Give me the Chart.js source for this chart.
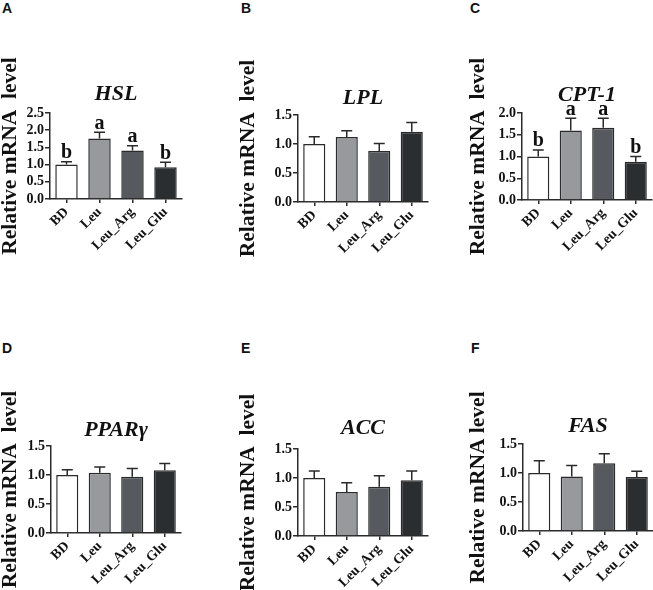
<!DOCTYPE html>
<html>
<head>
<meta charset="utf-8">
<script src="https://cdn.jsdelivr.net/npm/chart.js@4.4.1/dist/chart.umd.min.js"></script>
<style>
  html, body { margin: 0; padding: 0; background: #fff; }
  body { width: 653px; height: 590px; position: relative; overflow: hidden; }
  .panel { position: absolute; }
  .tag { position: absolute; font: bold 14px "Liberation Sans", Arial, sans-serif; color: #111; }
</style>
</head>
<body>
<div class="tag" style="left:2px;top:0px">A</div>
<div class="tag" style="left:241px;top:0px">B</div>
<div class="tag" style="left:470px;top:0px">C</div>
<div class="tag" style="left:2px;top:340px">D</div>
<div class="tag" style="left:241px;top:340px">E</div>
<div class="tag" style="left:471px;top:340px">F</div>

<canvas id="cA" class="panel" width="220" height="290" style="left:-5px;top:0px"></canvas>
<canvas id="cB" class="panel" width="220" height="290" style="left:215px;top:0px"></canvas>
<canvas id="cC" class="panel" width="220" height="290" style="left:433px;top:0px"></canvas>
<canvas id="cD" class="panel" width="220" height="295" style="left:-5px;top:295px"></canvas>
<canvas id="cE" class="panel" width="220" height="295" style="left:215px;top:295px"></canvas>
<canvas id="cF" class="panel" width="220" height="295" style="left:433px;top:295px"></canvas>

<script>
const groups = ['BD', 'Leu', 'Leu_Arg', 'Leu_Glu'];
const barColors = ['#ffffff', '#97999d', '#56595d', '#2b2e31'];

const hslMean = [1.0, 1.76, 1.41, 0.92];
const hslErr = [0.08, 0.18, 0.14, 0.15];
const hslSig = ['b', 'a', 'a', 'b'];
const hslTicks = [0, 0.5, 1.0, 1.5, 2.0, 2.5];

const lplMean = [1.0, 1.12, 0.88, 1.21];
const lplErr = [0.125, 0.11, 0.13, 0.16];
const lplTicks = [0, 0.5, 1.0, 1.5];

const cptMean = [1.0, 1.6, 1.66, 0.88];
const cptErr = [0.15, 0.28, 0.22, 0.12];
const cptSig = ['b', 'a', 'a', 'b'];
const cptTicks = [0, 0.5, 1.0, 1.5, 2.0];

const pparMean = [1.0, 1.04, 0.97, 1.08];
const pparErr = [0.09, 0.10, 0.14, 0.12];
const pparTicks = [0, 0.5, 1.0, 1.5];

const accMean = [1.0, 0.76, 0.85, 0.96];
const accErr = [0.12, 0.16, 0.19, 0.16];
const accTicks = [0, 0.5, 1.0, 1.5];

const fasMean = [1.0, 0.94, 1.17, 0.93];
const fasErr = [0.21, 0.19, 0.16, 0.10];
const fasTicks = [0, 0.5, 1.0, 1.5];

const serif = '"Liberation Serif", "Times New Roman", serif';
const ink = '#111';
const axisInk = '#2a2a2a';

// error bars + significance letters on top of each bar
const errorBars = {
  id: 'errorBars',
  afterDatasetsDraw(chart) {
    const ds = chart.data.datasets[0];
    const meta = chart.getDatasetMeta(0);
    const y = chart.scales.y;
    const ctx = chart.ctx;
    ctx.save();
    ctx.strokeStyle = axisInk;
    ctx.lineWidth = 1.5;
    meta.data.forEach((bar, i) => {
      const top = y.getPixelForValue(ds.data[i] + ds.err[i]);
      ctx.beginPath();
      ctx.moveTo(bar.x, bar.y);
      ctx.lineTo(bar.x, top);
      ctx.moveTo(bar.x - 5.5, top);
      ctx.lineTo(bar.x + 5.5, top);
      ctx.stroke();
      if (ds.sig) {
        ctx.fillStyle = ink;
        ctx.font = 'bold 20px ' + serif;
        ctx.textAlign = 'center';
        ctx.textBaseline = 'alphabetic';
        ctx.fillText(ds.sig[i], bar.x, top - 3.5);
      }
    });
    ctx.restore();
  }
};

function makePanel(id, gene, mean, err, sig, ticks, yLabel, geo) {
  const canvas = document.getElementById(id);
  const W = canvas.width, H = canvas.height;
  const lh = 22 * 1.2;
  return new Chart(canvas, {
    type: 'bar',
    data: {
      labels: groups,
      datasets: [{
        data: mean,
        err: err,
        sig: sig,
        backgroundColor: barColors,
        borderColor: axisInk,
        borderWidth: 1.5,
        barPercentage: 0.68,
        categoryPercentage: 1.0
      }]
    },
    options: {
      responsive: false,
      animation: false,
      layout: {
        padding: { left: 0, right: W - geo.right, top: geo.titleY - lh / 2, bottom: 0 }
      },
      plugins: {
        legend: { display: false },
        tooltip: { enabled: false },
        title: {
          display: true,
          text: gene,
          fullSize: false,
          color: ink,
          font: { family: serif, size: 22, weight: 'bold', style: 'italic' },
          padding: { top: 0, bottom: geo.top - geo.titleY - lh / 2 }
        }
      },
      scales: {
        x: {
          border: { color: axisInk, width: 1.5 },
          grid: { display: true, drawOnChartArea: false, offset: false, color: axisInk, lineWidth: 1.5, tickLength: 4 },
          ticks: {
            color: ink, font: { family: serif, size: 14, weight: 'bold' },
            minRotation: 45, maxRotation: 45, autoSkip: false, padding: 1
          },
          afterFit: s => { s.height = H - geo.bottom; }
        },
        y: {
          min: 0,
          max: ticks[ticks.length - 1],
          border: { color: axisInk, width: 1.5 },
          grid: { display: true, drawOnChartArea: false, color: axisInk, lineWidth: 1.5, tickLength: 5 },
          afterBuildTicks: s => { s.ticks = ticks.map(v => ({ value: v })); },
          ticks: {
            color: ink, font: { family: serif, size: 14, weight: 'bold' }, padding: 1,
            autoSkip: false,
            callback: v => Number(v).toFixed(1)
          },
          title: {
            display: true,
            text: yLabel,
            color: ink,
            font: { family: serif, size: 21.5, weight: 'bold', lineHeight: 1 },
            padding: { top: geo.yTitleX - 10.75, bottom: 0 }
          },
          afterFit: s => { s.width = geo.left; }
        }
      }
    },
    plugins: [errorBars]
  });
}

const yTitle = 'Relative mRNA  level';
makePanel('cA', 'HSL', hslMean, hslErr, hslSig, hslTicks, yTitle,
  { left: 55, right: 187, top: 113, bottom: 199, titleY: 94, yTitleX: 15 });
makePanel('cB', 'LPL', lplMean, lplErr, null, lplTicks, yTitle,
  { left: 83, right: 213, top: 115, bottom: 202, titleY: 98, yTitleX: 33 });
makePanel('cC', 'CPT-1', cptMean, cptErr, cptSig, cptTicks, yTitle,
  { left: 89, right: 219, top: 113, bottom: 200, titleY: 95, yTitleX: 45 });
makePanel('cD', 'PPARγ', pparMean, pparErr, null, pparTicks, yTitle,
  { left: 56, right: 186, top: 151, bottom: 238, titleY: 135, yTitleX: 15 });
makePanel('cE', 'ACC', accMean, accErr, null, accTicks, yTitle,
  { left: 83, right: 213, top: 154, bottom: 241, titleY: 133, yTitleX: 33 });
makePanel('cF', 'FAS', fasMean, fasErr, null, fasTicks, 'Relative mRNA level',
  { left: 90, right: 220, top: 149, bottom: 236, titleY: 131, yTitleX: 45 });
</script>
</body>
</html>
